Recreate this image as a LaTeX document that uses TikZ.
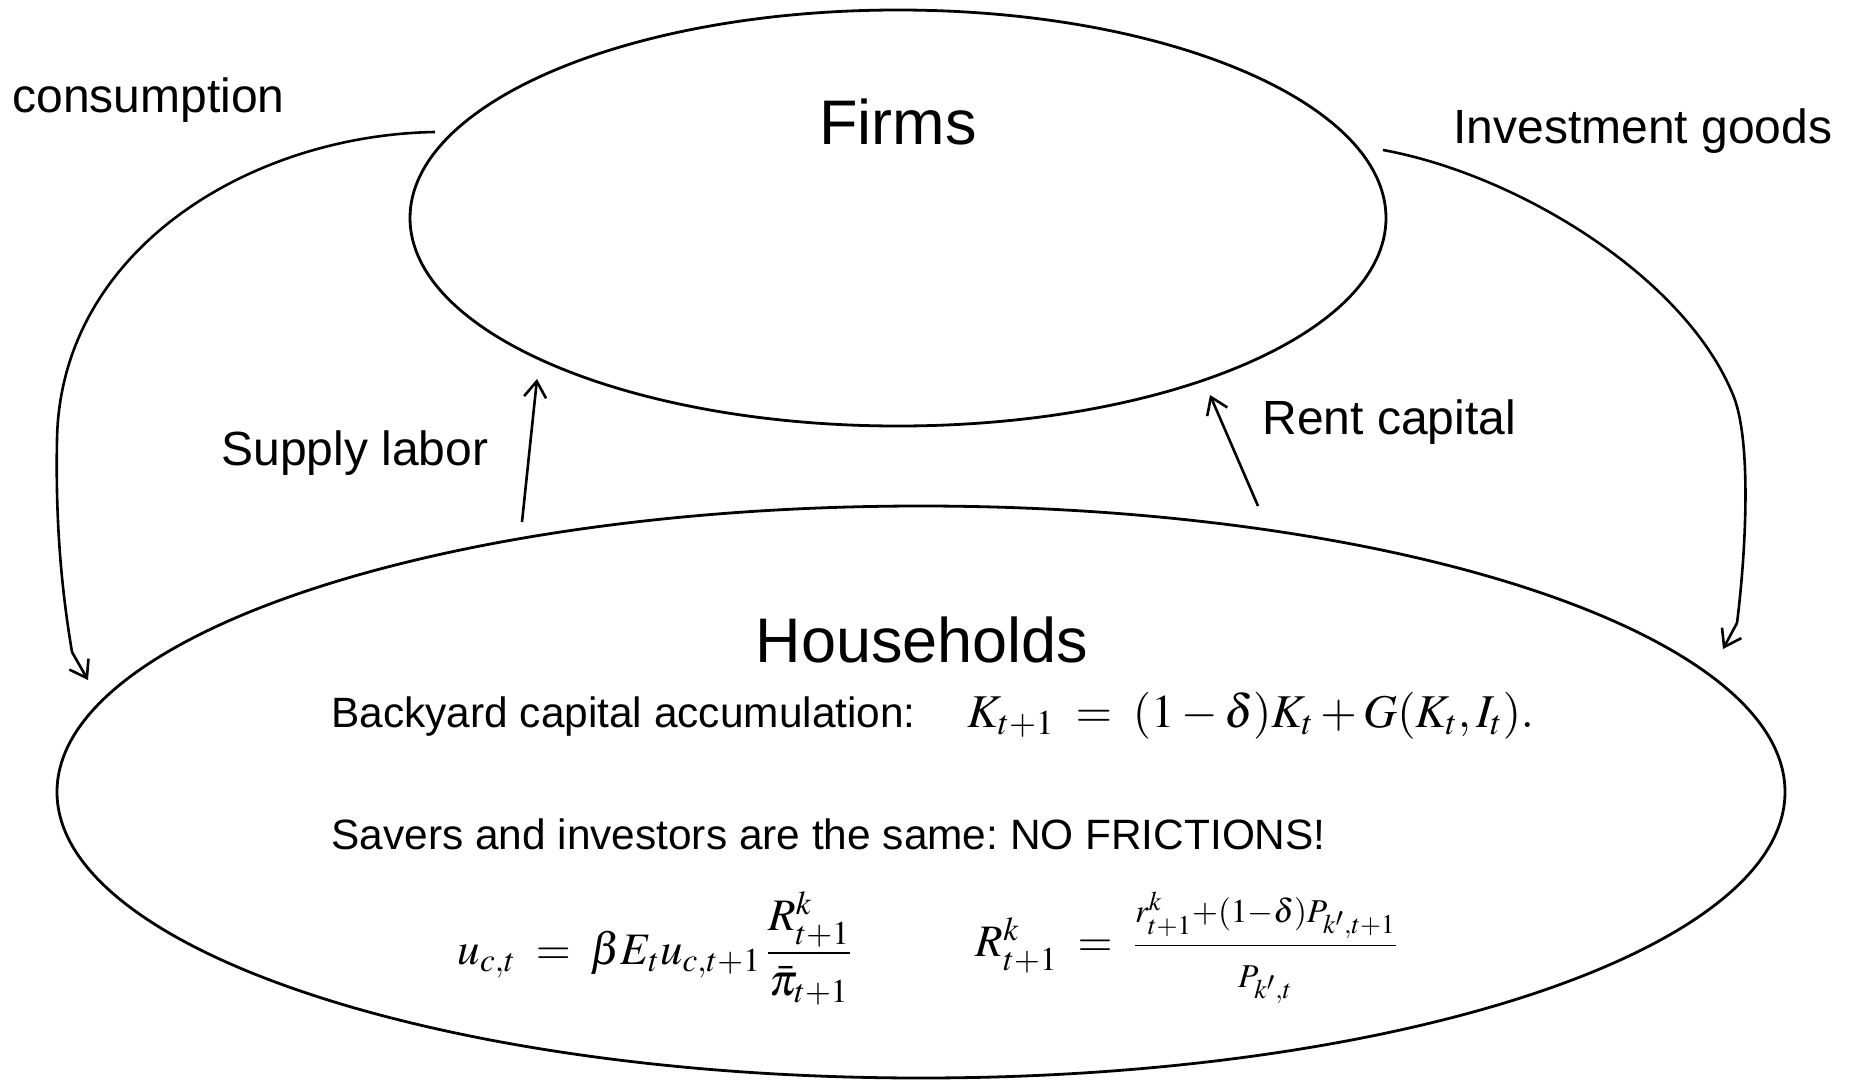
\documentclass[tikz,border=0pt]{standalone}
\usepackage{amsmath}
\usepackage{mathptmx}
\usepackage[no-math]{fontspec}
\setmainfont{Liberation Sans}
\frenchspacing
\usetikzlibrary{shapes.geometric,arrows.meta}
\begin{document}
\begin{tikzpicture}[x=0.5pt,y=-0.5pt,
  ell/.style={draw, ellipse, inner sep=0pt, line width=1.4pt},
  lab/.style={inner sep=0pt, font=\fontsize{24}{28}\selectfont},
  big/.style={inner sep=0pt, font=\fontsize{31.5}{36}\selectfont},
  body/.style={inner sep=0pt, font=\fontsize{21.2}{25}\selectfont},
  eqn/.style={inner sep=0pt, font=\fontsize{22.5}{26}\selectfont},
  curve/.style={line width=1.3pt},
  flow/.style={-{Straight Barb[length=8pt,width=11pt]}, line width=1.3pt}]
\useasboundingbox (0,0) rectangle (1854,1082);
% ellipses
\node[ell, minimum width=488pt, minimum height=208pt] (firms) at (898,218) {};
\node[ell, minimum width=864pt, minimum height=286pt] (hh) at (921,792) {};
% titles
\node[big, anchor=base] (firmslab) at (898,144) {Firms};
\node[big, anchor=base] (hhlab) at (922,662) {Households};
% flow labels
\node[lab, anchor=base west] (cons) at (12,112) {consumption};
\node[lab, anchor=base west] (inv) at (1453,143) {Investment goods};
\node[lab, anchor=base west] (rent) at (1262,434) {Rent capital};
\node[lab, anchor=base west] (supply) at (221,465) {Supply labor};
% household body
\node[body, anchor=base west] (backyard) at (331,727) {Backyard capital accumulation:\hspace{26pt}{\fontsize{23.5}{28}\selectfont$K_{t+1}\;=\;(1-\delta)K_t+G(K_t,I_t).$}};
\node[body, anchor=base west] (savers) at (331,849) {Savers and investors are the same: NO FRICTIONS!};
\node[eqn] (euler) at (655,948) {$u_{c,t}\;=\;\beta E_t u_{c,t+1}\,\dfrac{R^k_{t+1}}{\bar{\pi}_{t+1}}$};
\node[eqn] (ret) at (1187,948) {$R^k_{t+1}\;=\;\dfrac{\scriptstyle r^k_{t+1}+(1-\delta)P_{k',t+1}}{\scriptstyle P_{k',t}}$};
% connector points
\coordinate (consA) at (435,132);
\coordinate (consB) at (57,440);
\coordinate (consC) at (72,652);
\coordinate (consD) at (88,680);
\coordinate (invA) at (1383,150);
\coordinate (invB) at (1735,400);
\coordinate (invC) at (1737,623);
\coordinate (invD) at (1723,649);
\coordinate (labA) at (522,522);
\coordinate (labB) at (537,379);
\coordinate (capA) at (1258,506);
\coordinate (capB) at (1210,395);
% connectors
\draw[curve] (consA) .. controls (250,135) and (60,250) .. (consB) .. controls (55,540) and (65,610) .. (consC);
\draw[flow] (consC) -- (consD);
\draw[curve] (invA) .. controls (1520,175) and (1690,280) .. (invB) .. controls (1752,450) and (1745,560) .. (invC);
\draw[flow] (invC) -- (invD);
\draw[flow] (labA) -- (labB);
\draw[flow] (capA) -- (capB);
\end{tikzpicture}
\end{document}
